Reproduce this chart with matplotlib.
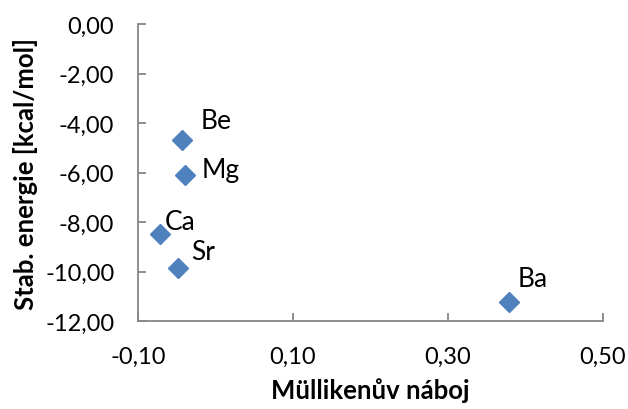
import matplotlib.pyplot as plt
from matplotlib.ticker import FuncFormatter

# Mulliken charge vs. stabilization energy for alkaline earth metals
elements = ['Be', 'Mg', 'Ca', 'Sr', 'Ba']
charge = [-0.043, -0.039, -0.071, -0.048, 0.379]
energy = [-4.67, -6.10, -8.48, -9.87, -11.22]
# label offsets in points (dx, dy)
offsets = [(13, 14), (12, 4), (3, 9), (9, 12), (6, 17)]

plt.rcParams['font.family'] = ['Lato', 'DejaVu Sans']

fig = plt.figure(figsize=(6.28, 4.10), dpi=100)
ax = fig.add_axes([0.2197, 0.2146, 0.7404, 0.7244])

ax.plot(charge, energy, linestyle='none', marker='D', markersize=10,
        color='#4F81BD', markeredgecolor='#4F81BD')

for name, x, y, (dx, dy) in zip(elements, charge, energy, offsets):
    ax.annotate(name, (x, y), xytext=(dx, dy), textcoords='offset points',
                fontsize=19, ha='left', va='center')

ax.set_xlim(-0.10, 0.50)
ax.set_ylim(-12, 0)
ax.set_xticks([-0.10, 0.10, 0.30, 0.50])
ax.set_yticks(range(-12, 1, 2))

comma = FuncFormatter(lambda v, p: f'{v:.2f}'.replace('.', ','))
ax.xaxis.set_major_formatter(comma)
ax.yaxis.set_major_formatter(comma)

for s in ['top', 'right']:
    ax.spines[s].set_visible(False)
for s in ['left', 'bottom']:
    ax.spines[s].set_color('#868686')
    ax.spines[s].set_linewidth(1.3)

ax.tick_params(axis='both', direction='in', length=6, width=1.3,
               color='#868686', labelsize=17, labelcolor='black')
ax.tick_params(axis='x', pad=18)
ax.tick_params(axis='y', pad=17)

ax.set_xlabel('Müllikenův náboj', fontsize=18.5, fontweight='bold', labelpad=7)
ax.set_ylabel('Stab. energie [kcal/mol]', fontsize=18.5, fontweight='bold', labelpad=5)

fig.savefig('out.png', dpi=100)
